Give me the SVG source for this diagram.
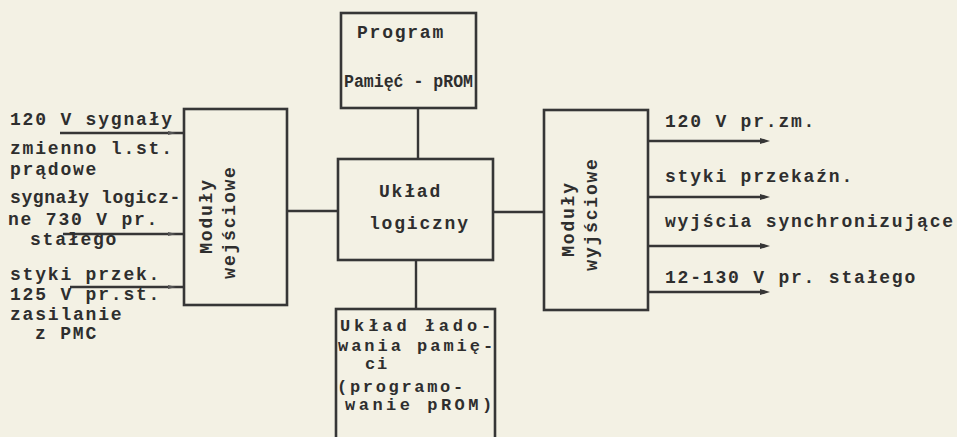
<svg xmlns="http://www.w3.org/2000/svg" width="957" height="437" viewBox="0 0 957 437">
<defs>
<style>
.bg{fill:#f3f1e4}
.box{fill:none;stroke:#363636;stroke-width:2.6}
.ln{fill:none;stroke:#363636;stroke-width:2.4}
.t{font-family:"Liberation Mono","Courier New",monospace;font-size:18px;letter-spacing:1.8px;fill:#2e2e2e;font-weight:bold}
.s{font-size:17px}
.tc{text-anchor:middle}
</style>
<marker id="ah" viewBox="0 0 10 6" refX="5" refY="3" markerWidth="10" markerHeight="6" markerUnits="userSpaceOnUse" orient="auto">
<path d="M0,0 L10,3 L0,6 Z" fill="#363636"/>
</marker>
</defs>
<rect class="bg" x="0" y="0" width="957" height="437"/>

<g id="connectors">
<line class="ln" x1="60" y1="133" x2="184" y2="133"/>
<line class="ln" x1="63" y1="234" x2="184" y2="234"/>
<line class="ln" x1="70" y1="287" x2="184" y2="287"/>
<path d="M168,131 l8,2 l-8,2 Z M168,232 l8,2 l-8,2 Z M168,285 l8,2 l-8,2 Z" fill="#555"/>
<line class="ln" x1="287" y1="211" x2="338" y2="211"/>
<line class="ln" x1="493" y1="212" x2="544" y2="212"/>
<line class="ln" x1="418" y1="108" x2="418" y2="159"/>
<line class="ln" x1="416" y1="260" x2="416" y2="309"/>
<line class="ln" x1="648" y1="141" x2="765" y2="141" marker-end="url(#ah)"/>
<line class="ln" x1="648" y1="197" x2="765" y2="197" marker-end="url(#ah)"/>
<line class="ln" x1="648" y1="246" x2="765" y2="246" marker-end="url(#ah)"/>
<line class="ln" x1="648" y1="292" x2="765" y2="292" marker-end="url(#ah)"/>
</g>

<g id="inputs-labels">
<text class="t" x="10" y="125">120 V sygnały</text>
<text class="t" x="10" y="154">zmienno l.st.</text>
<text class="t" x="10" y="175">prądowe</text>
<text class="t" x="10" y="203" textLength="172" lengthAdjust="spacing">sygnały logicz-</text>
<text class="t" x="8" y="225">ne 730 V pr.</text>
<text class="t" x="30" y="245">stałego</text>
<text class="t" x="10" y="280">styki przek.</text>
<text class="t" x="10" y="300">125 V pr.st.</text>
<text class="t" x="10" y="320">zasilanie</text>
<text class="t" x="35" y="339">z PMC</text>
</g>

<g id="node-program">
<rect class="box" x="341" y="13" width="135" height="95"/>
<text class="t" x="357" y="38" textLength="88" lengthAdjust="spacing">Program</text>
<text class="t" x="344" y="87" textLength="129" lengthAdjust="spacingAndGlyphs" style="letter-spacing:0">Pamięć - pROM</text>
</g>

<g id="node-wejsciowe">
<rect class="box" x="184" y="109" width="103" height="196"/>
<text class="t tc" transform="translate(212,216) rotate(-90)">Moduły</text>
<text class="t tc" transform="translate(235,222) rotate(-90)">wejściowe</text>
</g>

<g id="node-logic">
<rect class="box" x="338" y="159" width="155" height="101"/>
<text class="t" x="379" y="197">Układ</text>
<text class="t" x="369" y="229">logiczny</text>
</g>

<g id="node-wyjsciowe">
<rect class="box" x="544" y="110" width="104" height="200"/>
<text class="t tc" transform="translate(574,219) rotate(-90)">Moduły</text>
<text class="t tc" transform="translate(597,214) rotate(-90)">wyjściowe</text>
</g>

<g id="node-ladowanie">
<rect class="box" x="336" y="309" width="159" height="140"/>
<text class="t s" x="340" y="331" textLength="153" lengthAdjust="spacing">Układ łado-</text>
<text class="t s" x="338" y="351" textLength="157" lengthAdjust="spacing">wania pamię-</text>
<text class="t s" x="365" y="369">ci</text>
<text class="t s" x="337" y="392" textLength="128" lengthAdjust="spacing">(programo-</text>
<text class="t s" x="345" y="410" textLength="149" lengthAdjust="spacing">wanie pROM)</text>
</g>

<g id="outputs-labels">
<text class="t" x="665" y="127">120 V pr.zm.</text>
<text class="t" x="665" y="182">styki przekaźn.</text>
<text class="t" x="665" y="227">wyjścia synchronizujące</text>
<text class="t" x="665" y="283">12-130 V pr. stałego</text>
</g>
</svg>
